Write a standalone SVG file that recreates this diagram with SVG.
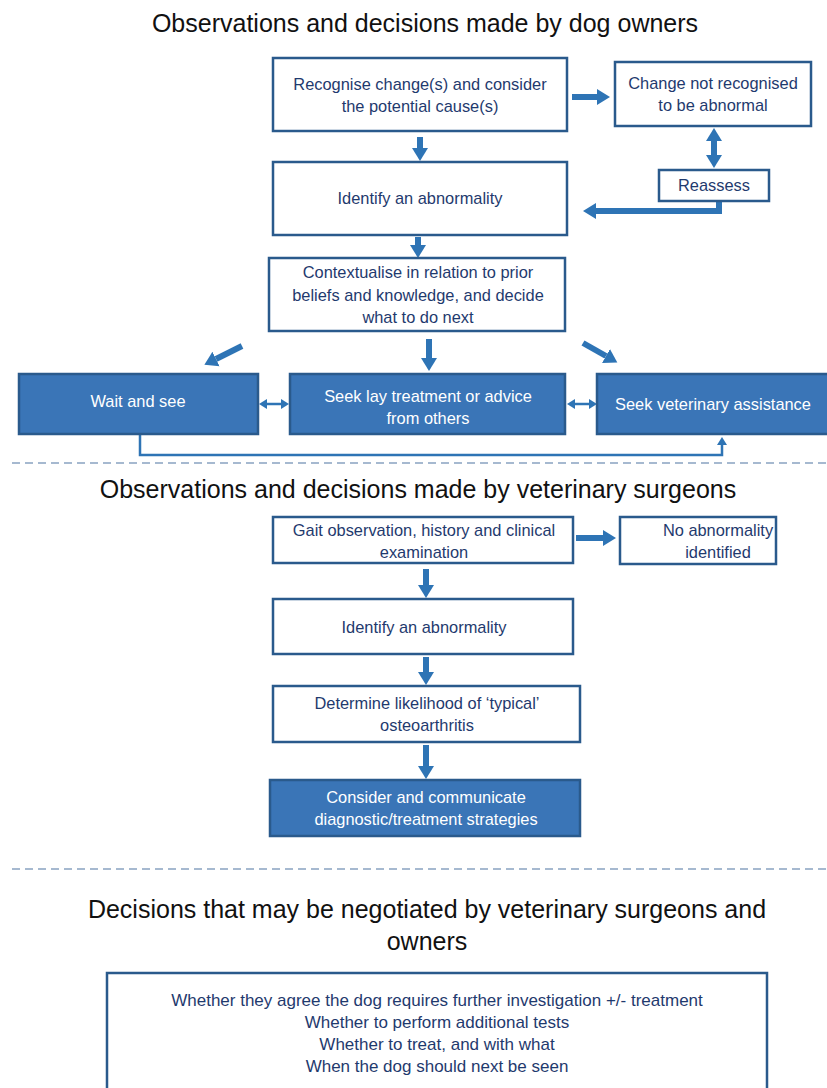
<svg xmlns="http://www.w3.org/2000/svg" width="827" height="1088" viewBox="0 0 827 1088">
<style>
.box{fill:#ffffff;stroke:#2A5A8C;stroke-width:2.5}
.fbox{fill:#3A75B7;stroke:#2A5A8C;stroke-width:2.5}
text{font-family:"Liberation Sans",Arial,sans-serif}
.t{font-size:16.4px;fill:#1F3A6E;text-anchor:middle}
.b{font-size:17px;fill:#1F3A6E;text-anchor:middle}
.w{font-size:16.4px;fill:#ffffff;text-anchor:middle}
.h{font-size:25px;fill:#111111;text-anchor:middle}
.arr{stroke:#2E74B5;stroke-width:6;fill:none}
.thin{stroke:#2E74B5;stroke-width:2.5;fill:none}
.dash{stroke:#4F74A2;stroke-width:1.2;stroke-dasharray:8 5}
</style>
<defs>
<marker id="ah" markerUnits="userSpaceOnUse" markerWidth="14" markerHeight="18" refX="0" refY="8" orient="auto-start-reverse" viewBox="0 0 14 16"><path d="M0,0 L13,8 L0,16 z" fill="#2E74B5"/></marker>
<marker id="as" markerUnits="userSpaceOnUse" markerWidth="9" markerHeight="11" refX="0" refY="5" orient="auto-start-reverse" viewBox="0 0 9 10"><path d="M0,0 L8,5 L0,10 z" fill="#2E74B5"/></marker>
</defs>

<text class="h" x="425" y="32">Observations and decisions made by dog owners</text>
<text class="h" x="418" y="498">Observations and decisions made by veterinary surgeons</text>
<text class="h" x="427" y="918">Decisions that may be negotiated by veterinary surgeons and</text>
<text class="h" x="427" y="950">owners</text>

<line class="dash" x1="12" y1="463" x2="827" y2="463"/>
<line class="dash" x1="12" y1="869" x2="827" y2="869"/>

<g id="connectors">
<line class="arr" x1="572" y1="97" x2="597" y2="97" marker-end="url(#ah)"/>
<line class="arr" x1="420" y1="137" x2="420" y2="148" marker-end="url(#ah)"/>
<line class="arr" x1="714" y1="141" x2="714" y2="155" marker-start="url(#ah)" marker-end="url(#ah)"/>
<polyline class="arr" points="719,201 719,211 596,211" marker-end="url(#ah)"/>
<line class="arr" x1="418" y1="237" x2="418" y2="245" marker-end="url(#ah)"/>
<line class="arr" x1="242" y1="346" x2="216" y2="359" marker-end="url(#ah)"/>
<line class="arr" x1="429" y1="339" x2="429" y2="358" marker-end="url(#ah)"/>
<line class="arr" x1="583" y1="343" x2="606" y2="356" marker-end="url(#ah)"/>
<line class="thin" x1="267" y1="404" x2="281" y2="404" marker-start="url(#as)" marker-end="url(#as)"/>
<line class="thin" x1="575" y1="404" x2="589" y2="404" marker-start="url(#as)" marker-end="url(#as)"/>
<polyline class="thin" points="140,434 140,455 722,455 722,445" marker-end="url(#as)"/>
<line class="arr" x1="576" y1="538" x2="603" y2="538" marker-end="url(#ah)"/>
<line class="arr" x1="426" y1="569" x2="426" y2="585" marker-end="url(#ah)"/>
<line class="arr" x1="426" y1="657" x2="426" y2="672" marker-end="url(#ah)"/>
<line class="arr" x1="426" y1="745" x2="426" y2="766" marker-end="url(#ah)"/>
</g>

<g id="n-recognise">
<rect class="box" x="273" y="58" width="294" height="73"/>
<text class="t" x="420" y="90">Recognise change(s) and consider</text>
<text class="t" x="420" y="112">the potential cause(s)</text>
</g>
<g id="n-notrecognised">
<rect class="box" x="615" y="62" width="196" height="64"/>
<text class="t" x="713" y="89">Change not recognised</text>
<text class="t" x="713" y="111">to be abnormal</text>
</g>
<g id="n-reassess">
<rect class="box" x="659" y="170" width="110" height="31"/>
<text class="t" x="714" y="191">Reassess</text>
</g>
<g id="n-identify1">
<rect class="box" x="273" y="162" width="294" height="73"/>
<text class="t" x="420" y="204">Identify an abnormality</text>
</g>
<g id="n-contextualise">
<rect class="box" x="269" y="258" width="296" height="73"/>
<text class="t" x="418" y="278">Contextualise in relation to prior</text>
<text class="t" x="418" y="301">beliefs and knowledge, and decide</text>
<text class="t" x="418" y="323">what to do next</text>
</g>
<g id="n-wait">
<rect class="fbox" x="19" y="374" width="239" height="60"/>
<text class="w" x="138" y="407">Wait and see</text>
</g>
<g id="n-lay">
<rect class="fbox" x="290" y="374" width="275" height="60"/>
<text class="w" x="428" y="402">Seek lay treatment or advice</text>
<text class="w" x="428" y="424">from others</text>
</g>
<g id="n-vet">
<rect class="fbox" x="597" y="374" width="235" height="60"/>
<text class="w" x="713" y="410">Seek veterinary assistance</text>
</g>
<g id="n-gait">
<rect class="box" x="273" y="517" width="300" height="46"/>
<text class="t" x="424" y="536">Gait observation, history and clinical</text>
<text class="t" x="424" y="558">examination</text>
</g>
<g id="n-noabn">
<rect class="box" x="620" y="517" width="156" height="47"/>
<text class="t" x="718" y="536">No abnormality</text>
<text class="t" x="718" y="558">identified</text>
</g>
<g id="n-identify2">
<rect class="box" x="273" y="599" width="300" height="55"/>
<text class="t" x="424" y="633">Identify an abnormality</text>
</g>
<g id="n-determine">
<rect class="box" x="273" y="686" width="307" height="56"/>
<text class="t" x="427" y="709">Determine likelihood of ‘typical’</text>
<text class="t" x="427" y="731">osteoarthritis</text>
</g>
<g id="n-consider">
<rect class="fbox" x="270" y="780" width="310" height="56"/>
<text class="w" x="426" y="803">Consider and communicate</text>
<text class="w" x="426" y="825">diagnostic/treatment strategies</text>
</g>
<g id="n-decisions">
<rect class="box" x="107" y="973" width="660" height="120"/>
<text class="b" x="437" y="1006">Whether they agree the dog requires further investigation +/- treatment</text>
<text class="b" x="437" y="1028">Whether to perform additional tests</text>
<text class="b" x="437" y="1050">Whether to treat, and with what</text>
<text class="b" x="437" y="1072">When the dog should next be seen</text>
</g>
</svg>
